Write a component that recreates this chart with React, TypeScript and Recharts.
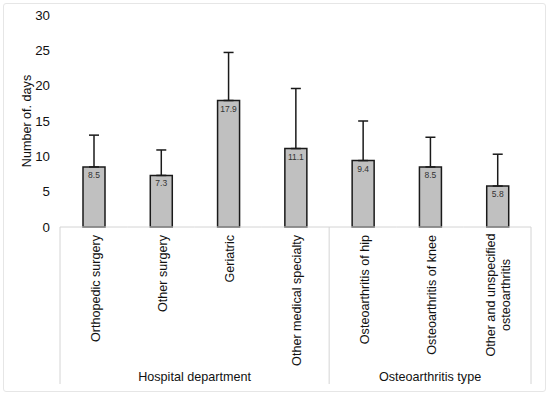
import React from 'react';
import { BarChart, Bar, XAxis, YAxis, ErrorBar, LabelList } from 'recharts';

const categories = [
  'Orthopedic surgery',
  'Other surgery',
  'Geriatric',
  'Other medical specialty',
  'Osteoarthritis of hip',
  'Osteoarthritis of knee',
  'Other and unspecified osteoarthritis',
];
const meanDays = [8.5, 7.3, 17.9, 11.1, 9.4, 8.5, 5.8];
const sdDays = [4.5, 3.6, 6.8, 8.5, 5.6, 4.2, 4.5];
const groups = ['Hospital department', 'Osteoarthritis type'];
const yTicks = [0, 5, 10, 15, 20, 25, 30];

const data = categories.map((c, i) => ({
  name: c,
  value: meanDays[i],
  err: [0, sdDays[i]],
}));

const FONT = 'Liberation Sans, Arial, sans-serif';
const LINE = '#d4d4d4';
const TXT = '#111';
const FS = 12.6;

const CategoryTick = (props: any) => {
  const { x, y, payload, index } = props;
  const half = payload && payload.offset ? payload.offset : 33.6;
  const top = y;
  const boxBottom = top + 157;
  const label: string = payload.value;
  const els: any[] = [];
  els.push(
    <line key="h" x1={x - half} x2={x + half} y1={top} y2={top} stroke={LINE} strokeWidth={1} />
  );
  if (index === 0) {
    els.push(<line key="l" x1={x - half} x2={x - half} y1={top} y2={boxBottom} stroke={LINE} strokeWidth={1} />);
  }
  if (index === 3 || index === 6) {
    els.push(<line key="r" x1={x + half} x2={x + half} y1={top} y2={boxBottom} stroke={LINE} strokeWidth={1} />);
  }
  if (index === 1) {
    els.push(
      <text key="g" x={x + half} y={top + 154} textAnchor="middle" fontSize={FS} fill={TXT} fontFamily={FONT}>
        {groups[0]}
      </text>
    );
  }
  if (index === 5) {
    els.push(
      <text key="g" x={x} y={top + 154} textAnchor="middle" fontSize={FS} fill={TXT} fontFamily={FONT}>
        {groups[1]}
      </text>
    );
  }
  if (label === 'Other and unspecified osteoarthritis') {
    const cy = top + 8 + 60;
    els.push(
      <text key="t1" x={x - 7} y={cy} transform={`rotate(-90, ${x - 7}, ${cy})`} textAnchor="middle" dy="0.35em" fontSize={FS} fill={TXT} fontFamily={FONT}>
        Other and unspecified
      </text>
    );
    els.push(
      <text key="t2" x={x + 8} y={cy} transform={`rotate(-90, ${x + 8}, ${cy})`} textAnchor="middle" dy="0.35em" fontSize={FS} fill={TXT} fontFamily={FONT}>
        osteoarthritis
      </text>
    );
  } else {
    const ty = top + 8;
    els.push(
      <text key="t" x={x + 1.5} y={ty} transform={`rotate(-90, ${x + 1.5}, ${ty})`} textAnchor="end" dy="0.35em" fontSize={FS} fill={TXT} fontFamily={FONT}>
        {label}
      </text>
    );
  }
  return <g>{els}</g>;
};

export default function App() {
  return (
    <div style={{ position: 'absolute', left: 0, top: 0, width: 550, height: 395, background: '#fff' }}>
      <div
        style={{
          position: 'absolute',
          left: 3,
          top: 3,
          width: 541,
          height: 387,
          border: '1px solid #e6e6e6',
          borderRadius: 3,
        }}
      />
      <div style={{ position: 'absolute', left: 0, top: 0 }}>
        <BarChart
          width={550}
          height={395}
          data={data}
          margin={{ top: 15, right: 19, bottom: 8, left: 0 }}
          barCategoryGap={0}
        >
          <XAxis
            dataKey="name"
            axisLine={false}
            tickLine={false}
            tickSize={0}
            tickMargin={0}
            height={160}
            interval={0}
            tick={<CategoryTick />}
          />
          <YAxis
            domain={[0, 30]}
            ticks={yTicks}
            axisLine={false}
            tickLine={false}
            tickSize={0}
            tickMargin={10}
            width={60}
            tick={{ fontSize: 13.3, fill: TXT, fontFamily: FONT }}
            label={{
              value: 'Number of. days',
              angle: -90,
              position: 'insideLeft',
              dx: 22,
              dy: 0,
              style: { textAnchor: 'middle', fontSize: FS, fill: TXT, fontFamily: FONT },
            }}
          />
          <Bar dataKey="value" fill="#c0c0c0" stroke="#1a1a1a" strokeWidth={1.5} barSize={22} isAnimationActive={false}>
            <ErrorBar dataKey="err" width={5} stroke="#1a1a1a" strokeWidth={1.5} direction="y" />
            <LabelList dataKey="value" position="insideTop" offset={5} fontSize={8.5} fill="#333" fontFamily={FONT} formatter={(v: any) => Number(v).toFixed(1)} />
          </Bar>
        </BarChart>
      </div>
    </div>
  );
}
